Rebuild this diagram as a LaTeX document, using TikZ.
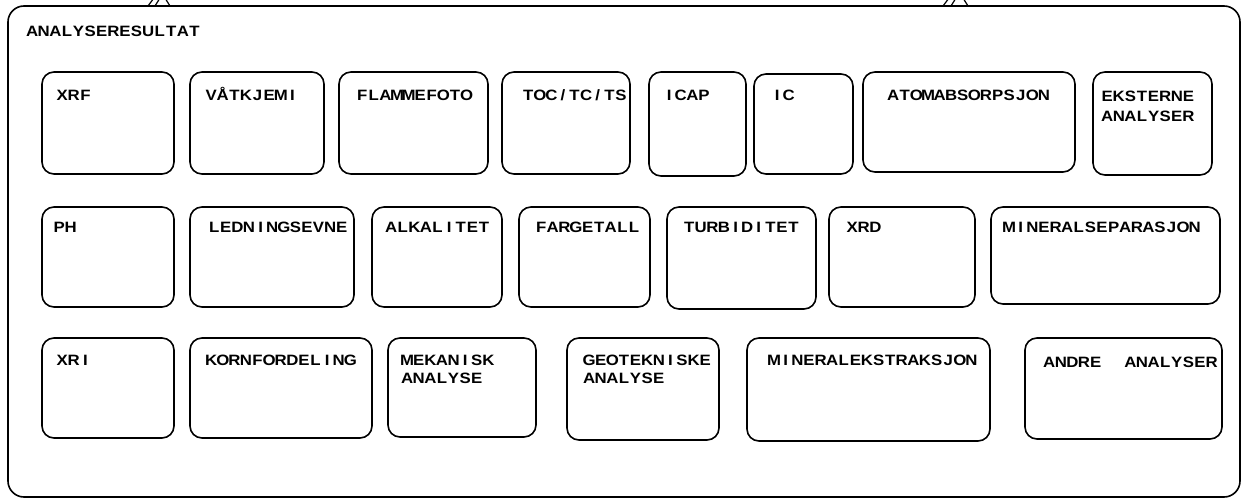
\documentclass[tikz,border=0pt]{standalone}
\usepackage{fontspec}
\setmainfont{Liberation Sans}[FakeStretch=1.12]
\usetikzlibrary{fit,calc}
\makeatletter
\newlength\mtw \setlength\mtw{11.6pt}
\newcommand\mt[1]{\@tfor\mtc:=#1\do{\makebox[\mtw][c]{\mtc}}}
\makeatother
\tikzset{
  frm/.style={draw, line width=1.6pt, rounded corners=16pt, inner sep=0pt},
  abx/.style={draw, line width=1.6pt, rounded corners=12pt, inner sep=0pt},
  lbl/.style={anchor=base west, inner sep=0pt, font=\fontsize{15pt}{18pt}\selectfont\bfseries},
  tick/.style={line width=1.2pt}
}
\newcommand\abox[8]{%
  \node[abx, fit={(#2,#3) (#4,#5)}] (#1) {};
  \node[lbl] (#1-t) at ($(#1.north west)+(#6,#7)$) {\mt{#8}};
}
\begin{document}
\begin{tikzpicture}[x=1pt,y=-1pt]
\useasboundingbox (0,0) rectangle (1245,502);
% outer frame
\node[frm, fit={(8,6) (1240,497)}] (frame) {};
\node[lbl] (title) at ($(frame.north west)+(19,31)$) {\mt{ANALYSERESULTAT}};
% cut-off marks at the top
\coordinate (la1) at (148,6); \coordinate (la1e) at (154,-2);
\coordinate (la2) at (155,6); \coordinate (la2e) at (160,-2);
\coordinate (la3) at (170,6); \coordinate (la3e) at (165,-2);
\coordinate (ra1) at (943,6); \coordinate (ra1e) at (949,-2);
\coordinate (ra2) at (951,6); \coordinate (ra2e) at (956,-2);
\coordinate (ra3) at (968,6); \coordinate (ra3e) at (963,-2);
\draw[tick] (la1) -- (la1e); \draw[tick] (la2) -- (la2e); \draw[tick] (la3) -- (la3e);
\draw[tick] (ra1) -- (ra1e); \draw[tick] (ra2) -- (ra2e); \draw[tick] (ra3) -- (ra3e);
% row 1
\abox{xrf}{42}{72}{174}{174}{15}{29}{XRF}
\abox{vat}{190}{72}{324}{174}{16}{29}{VÅTKJEMI}
\abox{flf}{339}{72}{488}{174}{18}{29}{FLAMMEFOTO}
\abox{toc}{502}{72}{630}{174}{21}{29}{TOC/TC/TS}
\abox{icap}{649}{72}{746}{176}{15}{29}{ICAP}
\abox{ic}{754}{74}{853}{174}{18}{27}{IC}
\abox{atom}{863}{72}{1075}{172}{25}{29}{ATOMABSORPSJON}
\abox{eks}{1093}{72}{1212}{175}{9}{30}{EKSTERNE}
\node[lbl] (eks-t2) at ($(eks-t.base west)+(0,20)$) {\mt{ANALYSER}};
% row 2
\abox{ph}{42}{207}{174}{307}{12}{26}{PH}
\abox{led}{190}{207}{354}{307}{19}{26}{LEDNINGSEVNE}
\abox{alk}{372}{207}{502}{307}{14}{26}{ALKALITET}
\abox{farg}{519}{207}{650}{307}{17}{26}{FARGETALL}
\abox{turb}{667}{207}{816}{309}{17}{26}{TURBIDITET}
\abox{xrd}{829}{207}{975}{307}{18}{26}{XRD}
\abox{minsep}{991}{207}{1220}{304}{13}{26}{MINERALSEPARASJON}
% row 3
\abox{xri}{42}{338}{174}{438}{15}{28}{XRI}
\abox{korn}{190}{338}{372}{438}{16}{28}{KORNFORDELING}
\abox{mek}{388}{338}{536}{437}{14}{28}{MEKANISK}
\node[lbl] (mek-t2) at ($(mek-t.base west)+(0,18)$) {\mt{ANALYSE}};
\abox{geo}{567}{338}{719}{440}{17}{28}{GEOTEKNISKE}
\node[lbl] (geo-t2) at ($(geo-t.base west)+(0,18)$) {\mt{ANALYSE}};
\abox{minek}{747}{338}{990}{441}{22}{28}{MINERALEKSTRAKSJON}
\abox{andre}{1025}{338}{1222}{439}{19}{30}{ANDRE~~ANALYSER}
\end{tikzpicture}
\end{document}
